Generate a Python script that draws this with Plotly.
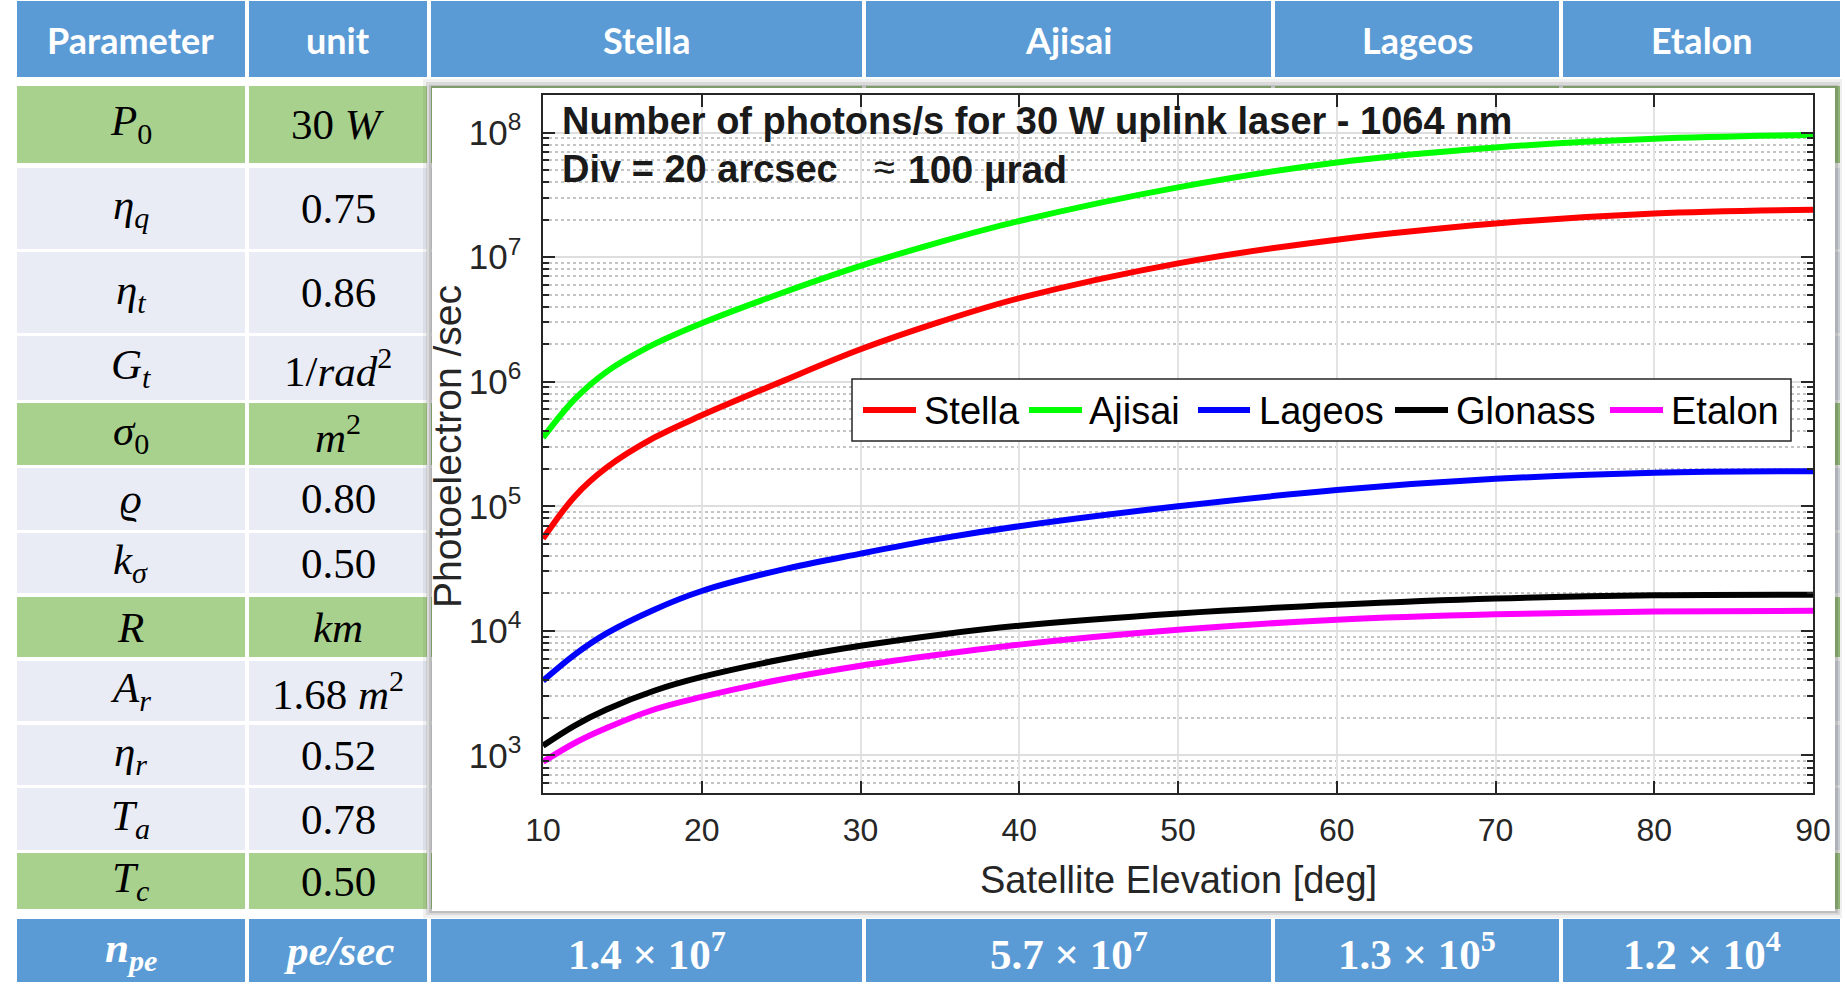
import plotly.graph_objects as go

# ---------------- data ----------------
elevation = [10, 12, 14, 17, 20, 25, 30, 35, 40, 50, 60, 70, 80, 90]
stella  = [5.50e4, 1.20e5, 2.04e5, 3.55e5, 5.37e5, 1.00e6, 1.82e6, 3.02e6, 4.68e6, 8.91e6, 1.38e7, 1.86e7, 2.24e7, 2.40e7]
ajisai  = [3.55e5, 7.24e5, 1.20e6, 2.00e6, 2.95e6, 5.13e6, 8.51e6, 1.32e7, 1.95e7, 3.63e7, 5.75e7, 7.59e7, 8.91e7, 9.55e7]
lageos  = [3.98e3, 6.46e3, 9.55e3, 1.48e4, 2.09e4, 3.09e4, 4.17e4, 5.50e4, 6.92e4, 1.00e5, 1.35e5, 1.66e5, 1.86e5, 1.91e5]
glonass = [1.20e3, 1.74e3, 2.34e3, 3.31e3, 4.27e3, 5.89e3, 7.59e3, 9.33e3, 1.10e4, 1.38e4, 1.62e4, 1.82e4, 1.93e4, 1.95e4]
etalon  = [8.9e2, 1.26e3, 1.66e3, 2.34e3, 2.95e3, 4.07e3, 5.25e3, 6.46e3, 7.76e3, 1.02e4, 1.23e4, 1.36e4, 1.43e4, 1.45e4]

series_names = ["Stella", "Ajisai", "Lageos", "Glonass", "Etalon"]
series_vals = [stella, ajisai, lageos, glonass, etalon]
series_colors = ["#ff0000", "#00ff00", "#0000ff", "#000000", "#ff00ff"]

x_ticks = [10, 20, 30, 40, 50, 60, 70, 80, 90]

header_labels = ["Parameter", "unit", "Stella", "Ajisai", "Lageos", "Etalon"]
param_labels = ["<i>P</i><sub>0</sub>", "<i>η</i><sub><i>q</i></sub>", "<i>η</i><sub><i>t</i></sub>",
                "<i>G</i><sub><i>t</i></sub>", "<i>σ</i><sub>0</sub>", "<i>ϱ</i>",
                "<i>k</i><sub><i>σ</i></sub>", "<i>R</i>", "<i>A</i><sub><i>r</i></sub>",
                "<i>η</i><sub><i>r</i></sub>", "<i>T</i><sub><i>a</i></sub>", "<i>T</i><sub><i>c</i></sub>"]
unit_labels = ["30 <i>W</i>", "0.75", "0.86", "1/<i>rad</i><sup>2</sup>", "<i>m</i><sup>2</sup>", "0.80",
               "0.50", "<i>km</i>", "1.68 <i>m</i><sup>2</sup>", "0.52", "0.78", "0.50"]
row_kind = ["g", "l", "l", "l", "g", "l", "l", "g", "l", "l", "l", "g"]
npe_label = "<b><i>n</i></b><sub><b><i>pe</i></b></sub>"
npe_unit = "<b><i>pe/sec</i></b>"
npe_values = ["<b>1.4 × 10<sup>7</sup></b>", "<b>5.7 × 10<sup>7</sup></b>",
              "<b>1.3 × 10<sup>5</sup></b>", "<b>1.2 × 10<sup>4</sup></b>"]

title_line1 = "Number of photons/s for 30 W uplink laser - 1064 nm"
title_line2 = ["Div = 20 arcsec", "≈", "100 µrad"]
x_title = "Satellite Elevation [deg]"
y_title = "Photoelectron /sec"

# ---------------- layout geometry (pixels) ----------------
FW, FH = 1845, 986
PL, PR, PT, PB = 543, 1813, 95, 793


def X(px):
    return (px - PL) / (PR - PL)


def Y(py):
    return (PB - py) / (PB - PT)


cols = [(17, 245), (249, 427), (431, 862), (866, 1271), (1275, 1559), (1563, 1840)]
header_row = (1, 77)
body_rows = [(86, 163), (168, 249), (252, 333), (336, 400), (403, 465), (468, 530),
             (533, 593), (597, 657), (661, 721), (725, 785), (788, 850), (853, 909)]
npe_row = (919, 982)

BLUE = "#5b9bd5"
GREEN = "#a9d18e"
LIGHT = "#e9ecf5"

shapes = []


def rect(x0, y0, x1, y1, color, line=None, layer="below"):
    d = dict(type="rect", xref="paper", yref="paper", x0=X(x0), x1=X(x1), y0=Y(y1), y1=Y(y0),
             fillcolor=color, layer=layer, line=dict(width=0))
    if line:
        d["line"] = line
    shapes.append(d)


for (c0, c1) in cols:
    rect(c0, header_row[0], c1, header_row[1], BLUE)
    rect(c0, npe_row[0], c1, npe_row[1], BLUE)
    for (r0, r1), k in zip(body_rows, row_kind):
        rect(c0, r0, c1, r1, GREEN if k == "g" else LIGHT)

# chart panel with soft shadow
rect(423, 79, 1842, 918, "rgba(0,0,0,0.06)")
rect(426, 82, 1840, 915, "rgba(0,0,0,0.09)")
rect(429, 85, 1838, 913, "rgba(0,0,0,0.12)")
rect(432, 88, 1835, 911, "white")

annotations = []


def text(px, py, s, size, color, family, **kw):
    annotations.append(dict(xref="paper", yref="paper", x=X(px), y=Y(py), text=s, showarrow=False,
                            font=dict(size=size, color=color, family=family),
                            xanchor=kw.get("xanchor", "center"), yanchor=kw.get("yanchor", "middle"),
                            textangle=kw.get("angle", 0)))


HDR_FONT = "Lato, Open Sans, sans-serif"
MATH_FONT = "Liberation Serif, DejaVu Serif, serif"
PLOT_FONT = "Liberation Sans, Arial, sans-serif"

for (c0, c1), lab in zip(cols, header_labels):
    text((c0 + c1) / 2, 40, "<b>%s</b>" % lab, 36, "white", HDR_FONT)

for (r0, r1), p, u in zip(body_rows, param_labels, unit_labels):
    cy = (r0 + r1) / 2
    text((cols[0][0] + cols[0][1]) / 2, cy, p, 43, "black", MATH_FONT)
    text((cols[1][0] + cols[1][1]) / 2, cy, u, 43, "black", MATH_FONT)

cy = (npe_row[0] + npe_row[1]) / 2
text((cols[0][0] + cols[0][1]) / 2, cy, npe_label, 43, "white", MATH_FONT)
text((cols[1][0] + cols[1][1]) / 2, cy, npe_unit, 43, "white", MATH_FONT)
for (c0, c1), v in zip(cols[2:], npe_values):
    text((c0 + c1) / 2, cy, v, 43, "white", MATH_FONT)

# chart titles inside plot
text(560, 121, "<b>%s</b>" % title_line1, 38, "#1a1a1a", PLOT_FONT, xanchor="left")
text(560, 169, "<b>%s</b>" % title_line2[0], 38, "#1a1a1a", PLOT_FONT, xanchor="left")
text(884, 167, title_line2[1], 38, "#1a1a1a", PLOT_FONT)
text(906, 169, "<b>%s</b>" % title_line2[2], 39, "#1a1a1a", PLOT_FONT, xanchor="left")
# axis titles
text((PL + PR) / 2, 880, x_title, 38, "#262626", PLOT_FONT)
text(447, 447, y_title, 39, "#262626", PLOT_FONT, angle=-90)

# legend (drawn manually to match the boxed MATLAB legend)
AX = "#262626"
rect(852, 379, 1791, 441, "white", line=dict(color=AX, width=1.5), layer="above")
leg_lines = [(863, 916), (1029, 1082), (1198, 1250), (1395, 1448), (1610, 1663)]
leg_text_x = [922, 1087, 1257, 1454, 1669]
LEG_Y = 410
for name, col, (l0, l1), tx in zip(series_names, series_colors, leg_lines, leg_text_x):
    shapes.append(dict(type="line", xref="paper", yref="paper", x0=X(l0), x1=X(l1),
                       y0=Y(LEG_Y), y1=Y(LEG_Y), line=dict(color=col, width=6), layer="above"))
    text(tx, LEG_Y + 1, name, 38, "black", PLOT_FONT, xanchor="left")

fig = go.Figure()
for name, vals, col in zip(series_names, series_vals, series_colors):
    fig.add_trace(go.Scatter(x=elevation, y=vals, name=name, mode="lines",
                             line=dict(color=col, width=6, shape="spline", smoothing=1.0)))

fig.update_layout(
    width=FW, height=FH,
    margin=dict(l=PL, r=FW - PR, t=PT, b=FH - PB, autoexpand=False),
    paper_bgcolor="white", plot_bgcolor="white",
    shapes=shapes, annotations=annotations,
    showlegend=False,
    xaxis=dict(range=[10, 90], tickvals=x_ticks, ticks="inside", ticklen=12, tickwidth=1.5,
               tickcolor=AX, showline=True, linecolor=AX, linewidth=2, mirror="ticks",
               showgrid=True, gridcolor="#e3e3e3", gridwidth=1.5, zeroline=False,
               tickfont=dict(family=PLOT_FONT, size=32, color=AX), ticklabelstandoff=8),
    yaxis=dict(type="log", range=[2.69897, 8.30103], dtick=1, exponentformat="power",
               ticks="inside", ticklen=12, tickwidth=1.5, tickcolor=AX,
               showline=True, linecolor=AX, linewidth=2, mirror="ticks",
               showgrid=True, gridcolor="#dedede", gridwidth=2, zeroline=False,
               tickfont=dict(family=PLOT_FONT, size=28, color=AX), ticklabelstandoff=14,
               minor=dict(ticks="inside", ticklen=6, tickcolor=AX, showgrid=True,
                          gridcolor="#c4c4c4", griddash="dot", gridwidth=1.5)),
)

fig.write_html("out.html")
